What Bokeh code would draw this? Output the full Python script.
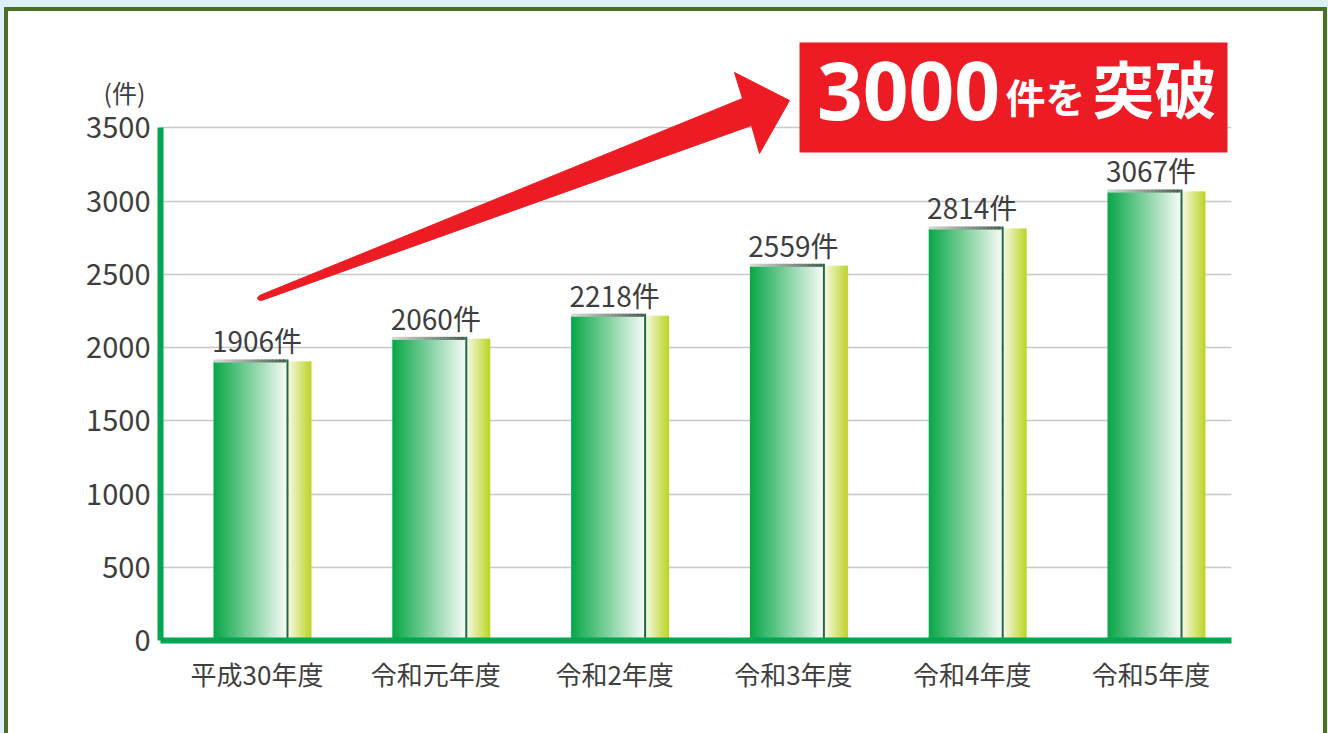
import numpy as np
from bokeh.plotting import figure
from bokeh.models import FixedTicker, LinearAxis, ColumnDataSource
from bokeh.core.properties import value
from bokeh.embed import file_html
from bokeh.resources import INLINE

# ---------------- data ----------------
categories = ["平成30年度", "令和元年度", "令和2年度", "令和3年度", "令和4年度", "令和5年度"]
counts = [1906, 2060, 2218, 2559, 2814, 3067]
y_ticks = [0, 500, 1000, 1500, 2000, 2500, 3000, 3500]
unit_label = "(件)"
callout_main = "3000"
callout_mid = "件を"
callout_end = "突破"

# ---------------- layout constants ----------------
W, H = 1328, 733
FL, FR, FT, FB = 160, 1231, 40, 640      # frame edges in canvas px
X0PX, XS = 256.5, 178.8                   # px of category 0, px per category
YS = 0.14643                              # px per count
x_start, x_end = (FL - X0PX) / XS, (FR - X0PX) / XS
y_start, y_end = 0, (FB - FT) / YS

def X(px):
    return (px - X0PX) / XS

def Y(py):
    return (FB - py) / YS

JP = "Noto Sans CJK JP"
TXT = "#3e3e3e"

p = figure(width=W, height=H, x_range=(x_start, x_end), y_range=(y_start, y_end),
           output_backend="svg", toolbar_location=None,
           min_border_left=FL, min_border_right=W - FR, min_border_top=FT, min_border_bottom=H - FB)
p.border_fill_color = None
p.background_fill_color = "white"
p.outline_line_color = None
# outer panel: light blue page edge + dark green panel border
p.styles = {
    "background-color": "white",
    "box-shadow": ("inset 4px 7px 0 0 #ddeff8, inset -1px 0 0 0 #ddeff8, "
                   "inset 8px 11px 0 0 #4a7024, inset -5px 0 0 0 #4a7024"),
}

# grid
p.xgrid.visible = False
p.ygrid.ticker = FixedTicker(ticks=y_ticks[1:])
p.ygrid.grid_line_color = "#c8c8c8"
p.ygrid.grid_line_width = 1.3

# axes
p.yaxis.ticker = FixedTicker(ticks=y_ticks)
p.yaxis.bounds = (0, y_ticks[-1])
p.yaxis.axis_line_color = "#00a651"
p.yaxis.axis_line_width = 6
p.yaxis.major_tick_line_color = None
p.yaxis.minor_tick_line_color = None
p.yaxis.major_label_standoff = 4
p.yaxis.major_label_text_font = JP
p.yaxis.major_label_text_font_size = "29px"
p.yaxis.major_label_text_color = TXT

idx = list(range(len(categories)))
p.xaxis.ticker = FixedTicker(ticks=idx)
p.xaxis.major_label_overrides = {i: c for i, c in zip(idx, categories)}
p.xaxis.axis_line_color = "#00a651"
p.xaxis.axis_line_width = 6
p.xaxis.major_tick_line_color = None
p.xaxis.minor_tick_line_color = None
p.xaxis.major_label_standoff = 8
p.xaxis.major_label_text_font = JP
p.xaxis.major_label_text_font_size = "26px"
p.xaxis.major_label_text_color = TXT

# unit label "(件)" as an outer left axis carrying a single labelled tick
unit_tick = int(round(Y(91)))
unit_axis = LinearAxis(ticker=FixedTicker(ticks=[unit_tick]),
                       major_label_overrides={unit_tick: unit_label},
                       axis_line_color=None, major_tick_line_color=None, minor_tick_line_color=None,
                       major_label_standoff=-68, major_label_text_font=JP,
                       major_label_text_font_size="25px", major_label_text_color=TXT)
p.add_layout(unit_axis, "left")

# ---------------- bars (gradient strips) ----------------
def hex2rgb(h):
    h = h.lstrip("#")
    return np.array([int(h[i:i + 2], 16) for i in (0, 2, 4)], dtype=float)

def grad(c1, c2, n):
    a, b = hex2rgb(c1), hex2rgb(c2)
    out = []
    for t in np.linspace(0, 1, n):
        r, g, bb = (a + (b - a) * t).round().astype(int)
        out.append("#%02x%02x%02x" % (r, g, bb))
    return out

g_l, g_r = -43.5 / XS, 29.5 / XS      # green face
d_l, d_r = 29.5 / XS, 31.5 / XS       # dark edge
s_l, s_r = 31.5 / XS, 54.5 / XS       # yellow side
OV = 1.2 / XS                         # strip overlap to hide seams

def strips(x_a, x_b, n, c1, c2, bottom_fn, top_fn):
    cols = grad(c1, c2, n)
    edges = np.linspace(x_a, x_b, n + 1)
    L, R, B, T, C = [], [], [], [], []
    for i, v in zip(idx, counts):
        for k in range(n):
            L.append(i + edges[k])
            R.append(i + min(edges[k + 1] + OV, x_b))
            B.append(bottom_fn(v)); T.append(top_fn(v)); C.append(cols[k])
    return dict(left=L, right=R, bottom=B, top=T, color=C)

face = strips(g_l, g_r, 37, "#0ba84a", "#f3f9f3", lambda v: 0, lambda v: v)
p.quad(source=ColumnDataSource(face), left="left", right="right", bottom="bottom", top="top",
       fill_color="color", line_color=None)
side = strips(s_l, s_r, 12, "#f2f6da", "#bfd52c", lambda v: 0, lambda v: v)
p.quad(source=ColumnDataSource(side), left="left", right="right", bottom="bottom", top="top",
       fill_color="color", line_color=None)
top_band = strips(g_l, g_r, 20, "#d4d9d4", "#4e6354", lambda v: v - 1.0 / YS, lambda v: v + 2.0 / YS)
p.quad(source=ColumnDataSource(top_band), left="left", right="right", bottom="bottom", top="top",
       fill_color="color", line_color=None)
p.quad(left=[i + d_l for i in idx], right=[i + d_r for i in idx], bottom=0,
       top=[v + 2.0 / YS for v in counts], fill_color="#1d6a47", line_color=None)

# value labels
p.text(x=idx, y=counts, text=[f"{v}件" for v in counts], y_offset=-21,
       text_align="center", text_baseline="middle",
       text_font=value(JP), text_font_size="28px", text_color=TXT)

# ---------------- arrow + callout ----------------
arrow_px = [(257, 297.5), (259, 295), (742, 98), (734, 72), (789, 100), (759, 153),
            (751, 125), (261, 300), (258, 299.5)]
p.patch(x=[X(a) for a, b in arrow_px], y=[Y(b) for a, b in arrow_px],
        fill_color="#ed1c24", line_color="#ed1c24", line_width=1)

p.quad(left=[X(799)], right=[X(1227)], top=[Y(42)], bottom=[Y(152)],
       fill_color="#ed1c24", line_color=None)
p.text(x=[X(908)], y=[Y(90)], text=[callout_main], text_align="center", text_baseline="middle",
       text_font=value("Open Sans"), text_font_style="bold", text_font_size="80px", text_color="white")
p.text(x=[X(1045)], y=[Y(95)], text=[callout_mid], text_align="center", text_baseline="middle",
       text_font=value(JP), text_font_style="bold", text_font_size="40px", text_color="white")
p.text(x=[X(1154)], y=[Y(86)], text=[callout_end], text_align="center", text_baseline="middle",
       text_font=value(JP), text_font_style="bold", text_font_size="62px", text_color="white")

open("out.html", "w").write(file_html(p, INLINE))
